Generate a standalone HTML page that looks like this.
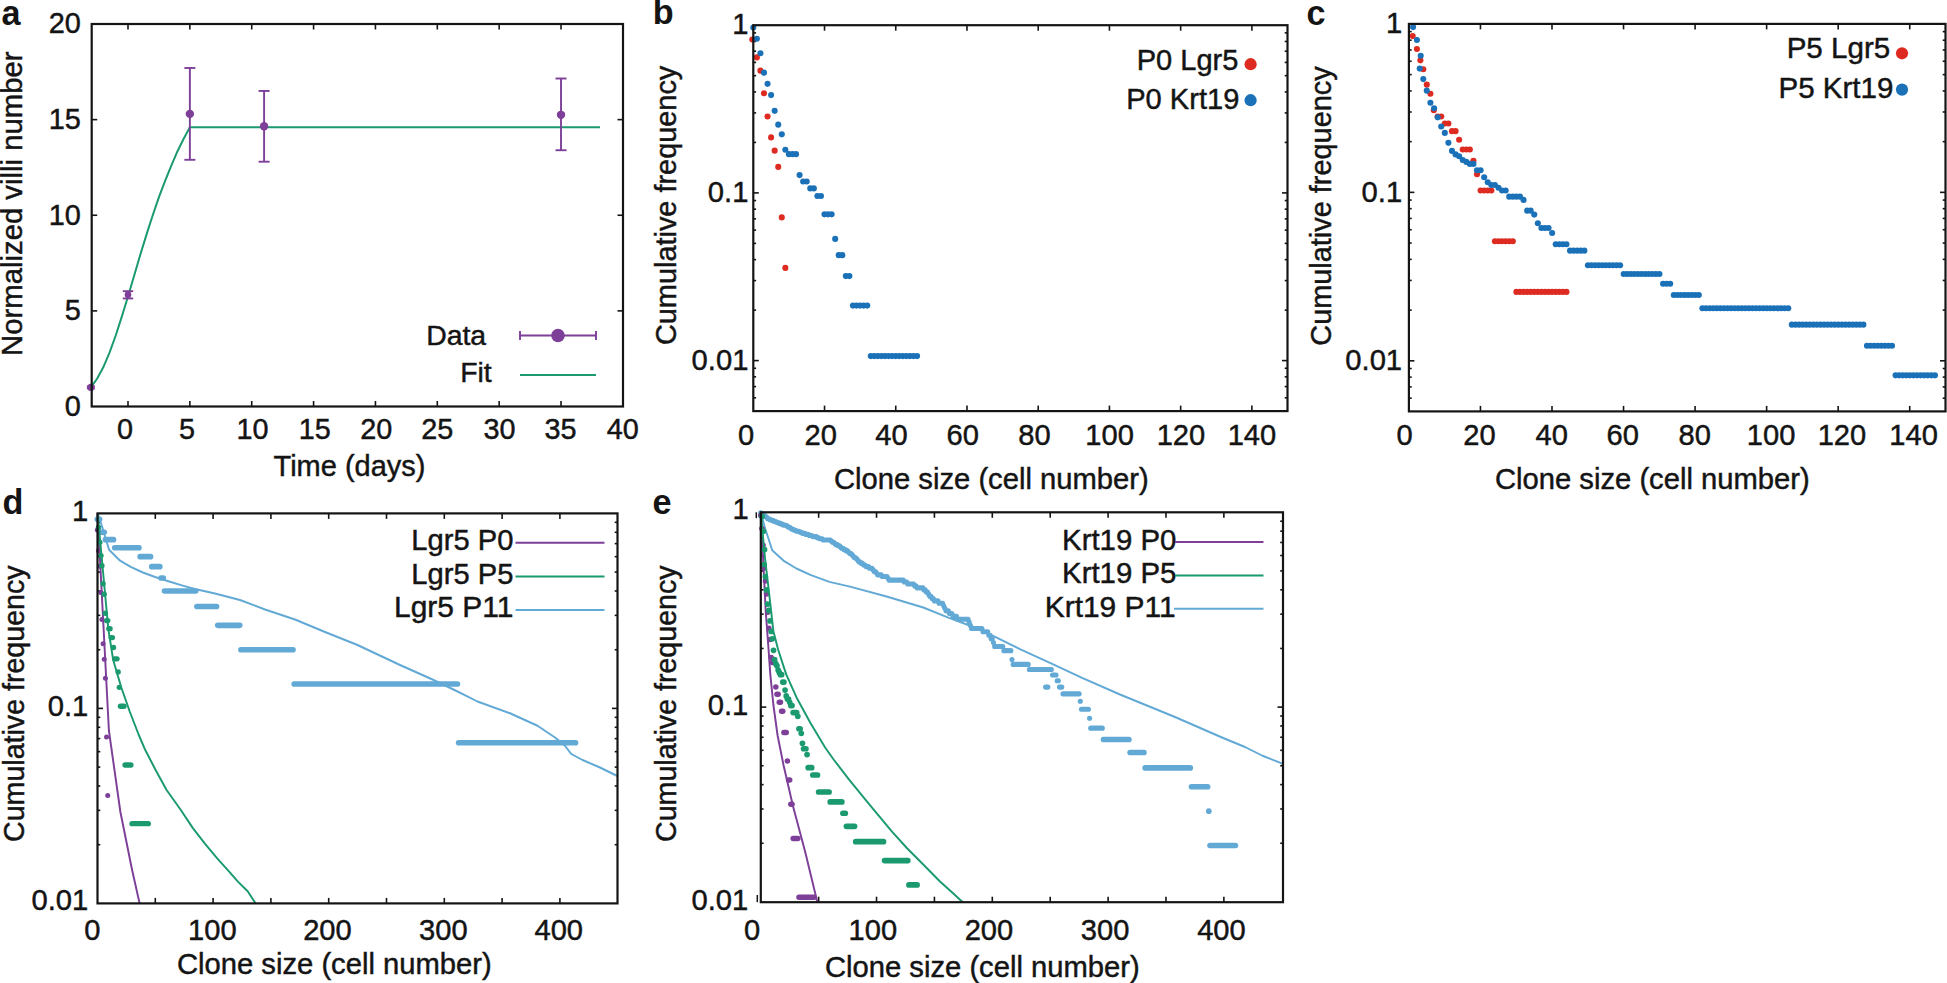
<!DOCTYPE html>
<html lang="en"><head><meta charset="utf-8"><title>Figure</title>
<style>html,body{margin:0;padding:0;background:#fff;}svg{display:block;}</style></head>
<body>
<svg width="1947" height="983" viewBox="0 0 1947 983" font-family="'Liberation Sans', sans-serif" fill="#141414">
<style>text{stroke:#141414;stroke-width:0.45px;paint-order:stroke fill;}</style>
<rect width="1947" height="983" fill="#ffffff"/>
<line x1="128" y1="406.5" x2="128" y2="401" stroke="#141414" stroke-width="1.6" stroke-linecap="butt"/>
<line x1="128" y1="24" x2="128" y2="29.5" stroke="#141414" stroke-width="1.6" stroke-linecap="butt"/>
<line x1="189.86" y1="406.5" x2="189.86" y2="401" stroke="#141414" stroke-width="1.6" stroke-linecap="butt"/>
<line x1="189.86" y1="24" x2="189.86" y2="29.5" stroke="#141414" stroke-width="1.6" stroke-linecap="butt"/>
<line x1="251.72" y1="406.5" x2="251.72" y2="401" stroke="#141414" stroke-width="1.6" stroke-linecap="butt"/>
<line x1="251.72" y1="24" x2="251.72" y2="29.5" stroke="#141414" stroke-width="1.6" stroke-linecap="butt"/>
<line x1="313.58" y1="406.5" x2="313.58" y2="401" stroke="#141414" stroke-width="1.6" stroke-linecap="butt"/>
<line x1="313.58" y1="24" x2="313.58" y2="29.5" stroke="#141414" stroke-width="1.6" stroke-linecap="butt"/>
<line x1="375.44" y1="406.5" x2="375.44" y2="401" stroke="#141414" stroke-width="1.6" stroke-linecap="butt"/>
<line x1="375.44" y1="24" x2="375.44" y2="29.5" stroke="#141414" stroke-width="1.6" stroke-linecap="butt"/>
<line x1="437.3" y1="406.5" x2="437.3" y2="401" stroke="#141414" stroke-width="1.6" stroke-linecap="butt"/>
<line x1="437.3" y1="24" x2="437.3" y2="29.5" stroke="#141414" stroke-width="1.6" stroke-linecap="butt"/>
<line x1="499.16" y1="406.5" x2="499.16" y2="401" stroke="#141414" stroke-width="1.6" stroke-linecap="butt"/>
<line x1="499.16" y1="24" x2="499.16" y2="29.5" stroke="#141414" stroke-width="1.6" stroke-linecap="butt"/>
<line x1="561.02" y1="406.5" x2="561.02" y2="401" stroke="#141414" stroke-width="1.6" stroke-linecap="butt"/>
<line x1="561.02" y1="24" x2="561.02" y2="29.5" stroke="#141414" stroke-width="1.6" stroke-linecap="butt"/>
<line x1="91.7" y1="310.88" x2="97.2" y2="310.88" stroke="#141414" stroke-width="1.6" stroke-linecap="butt"/>
<line x1="623" y1="310.88" x2="617.5" y2="310.88" stroke="#141414" stroke-width="1.6" stroke-linecap="butt"/>
<line x1="91.7" y1="215.25" x2="97.2" y2="215.25" stroke="#141414" stroke-width="1.6" stroke-linecap="butt"/>
<line x1="623" y1="215.25" x2="617.5" y2="215.25" stroke="#141414" stroke-width="1.6" stroke-linecap="butt"/>
<line x1="91.7" y1="119.62" x2="97.2" y2="119.62" stroke="#141414" stroke-width="1.6" stroke-linecap="butt"/>
<line x1="623" y1="119.62" x2="617.5" y2="119.62" stroke="#141414" stroke-width="1.6" stroke-linecap="butt"/>
<path d="M90.88 387.38 L97.07 378.77 L103.26 367.29 L109.44 352.95 L115.63 335.74 L121.81 316.61 L128 296.53 L134.19 275.49 L140.37 254.46 L146.56 234.38 L152.74 215.25 L158.93 197.08 L165.12 180.82 L171.3 165.53 L177.49 151.18 L183.67 138.75 L189.86 127.27 L599.99 127.27" fill="none" stroke="#1a9a6e" stroke-width="2" stroke-linejoin="round"/>
<line x1="90.88" y1="388.33" x2="90.88" y2="386.42" stroke="#7d3f98" stroke-width="1.9" stroke-linecap="butt"/>
<line x1="86.88" y1="388.33" x2="94.88" y2="388.33" stroke="#7d3f98" stroke-width="1.9" stroke-linecap="butt"/>
<line x1="86.88" y1="386.42" x2="94.88" y2="386.42" stroke="#7d3f98" stroke-width="1.9" stroke-linecap="butt"/>
<g fill="#7d3f98">
<circle cx="90.88" cy="387.38" r="3.6"/>
</g>
<line x1="128" y1="298.44" x2="128" y2="291.18" stroke="#7d3f98" stroke-width="1.9" stroke-linecap="butt"/>
<line x1="122.8" y1="298.44" x2="133.2" y2="298.44" stroke="#7d3f98" stroke-width="1.9" stroke-linecap="butt"/>
<line x1="122.8" y1="291.18" x2="133.2" y2="291.18" stroke="#7d3f98" stroke-width="1.9" stroke-linecap="butt"/>
<g fill="#7d3f98">
<circle cx="128" cy="294.81" r="3.3"/>
</g>
<line x1="189.86" y1="159.79" x2="189.86" y2="67.99" stroke="#7d3f98" stroke-width="1.9" stroke-linecap="butt"/>
<line x1="184.36" y1="159.79" x2="195.36" y2="159.79" stroke="#7d3f98" stroke-width="1.9" stroke-linecap="butt"/>
<line x1="184.36" y1="67.99" x2="195.36" y2="67.99" stroke="#7d3f98" stroke-width="1.9" stroke-linecap="butt"/>
<g fill="#7d3f98">
<circle cx="189.86" cy="113.89" r="4.2"/>
</g>
<line x1="264.09" y1="161.7" x2="264.09" y2="90.94" stroke="#7d3f98" stroke-width="1.9" stroke-linecap="butt"/>
<line x1="258.59" y1="161.7" x2="269.59" y2="161.7" stroke="#7d3f98" stroke-width="1.9" stroke-linecap="butt"/>
<line x1="258.59" y1="90.94" x2="269.59" y2="90.94" stroke="#7d3f98" stroke-width="1.9" stroke-linecap="butt"/>
<g fill="#7d3f98">
<circle cx="264.09" cy="126.32" r="4.2"/>
</g>
<line x1="561.02" y1="150.23" x2="561.02" y2="78.51" stroke="#7d3f98" stroke-width="1.9" stroke-linecap="butt"/>
<line x1="555.52" y1="150.23" x2="566.52" y2="150.23" stroke="#7d3f98" stroke-width="1.9" stroke-linecap="butt"/>
<line x1="555.52" y1="78.51" x2="566.52" y2="78.51" stroke="#7d3f98" stroke-width="1.9" stroke-linecap="butt"/>
<g fill="#7d3f98">
<circle cx="561.02" cy="114.84" r="4.2"/>
</g>
<rect x="91.7" y="24" width="531.3" height="382.5" fill="none" stroke="#141414" stroke-width="2.2"/>
<text x="117.11" y="439.4" font-size="28.8" text-anchor="start">0</text>
<text x="179.01" y="439.4" font-size="28.8" text-anchor="start">5</text>
<text x="236.62" y="439.4" font-size="28.8" text-anchor="start">10</text>
<text x="298.82" y="439.4" font-size="28.8" text-anchor="start">15</text>
<text x="360.17" y="439.4" font-size="28.8" text-anchor="start">20</text>
<text x="421.37" y="439.4" font-size="28.8" text-anchor="start">25</text>
<text x="483.42" y="439.4" font-size="28.8" text-anchor="start">30</text>
<text x="544.62" y="439.4" font-size="28.8" text-anchor="start">35</text>
<text x="606.73" y="439.4" font-size="28.8" text-anchor="start">40</text>
<text x="64.82" y="415.9" font-size="28.9" text-anchor="start">0</text>
<text x="64.82" y="320.27" font-size="28.9" text-anchor="start">5</text>
<text x="48.78" y="224.65" font-size="28.9" text-anchor="start">10</text>
<text x="48.78" y="129.03" font-size="28.9" text-anchor="start">15</text>
<text x="48.78" y="33.4" font-size="28.9" text-anchor="start">20</text>
<text x="273.53" y="475.8" font-size="29" text-anchor="start">Time (days)</text>
<text transform="translate(22.4 203.7) rotate(-90)" font-size="29.3" text-anchor="middle">Normalized villi number</text>
<text x="1.61" y="24.7" font-size="34.2" text-anchor="start" font-weight="bold" style="stroke:none">a</text>
<text x="426.15" y="344.8" font-size="28.4" text-anchor="start">Data</text>
<text x="460.17" y="382.3" font-size="28.4" text-anchor="start">Fit</text>
<line x1="520" y1="335.5" x2="596" y2="335.5" stroke="#7d3f98" stroke-width="1.9" stroke-linecap="butt"/>
<line x1="520" y1="331" x2="520" y2="340" stroke="#7d3f98" stroke-width="1.9" stroke-linecap="butt"/>
<line x1="596" y1="331" x2="596" y2="340" stroke="#7d3f98" stroke-width="1.9" stroke-linecap="butt"/>
<g fill="#7d3f98">
<circle cx="558" cy="335.5" r="6.8"/>
</g>
<line x1="520" y1="375" x2="596" y2="375" stroke="#1a9a6e" stroke-width="2" stroke-linecap="butt"/>
<line x1="824.53" y1="411.1" x2="824.53" y2="405.6" stroke="#141414" stroke-width="1.6" stroke-linecap="butt"/>
<line x1="824.53" y1="25.2" x2="824.53" y2="30.7" stroke="#141414" stroke-width="1.6" stroke-linecap="butt"/>
<line x1="895.75" y1="411.1" x2="895.75" y2="405.6" stroke="#141414" stroke-width="1.6" stroke-linecap="butt"/>
<line x1="895.75" y1="25.2" x2="895.75" y2="30.7" stroke="#141414" stroke-width="1.6" stroke-linecap="butt"/>
<line x1="966.98" y1="411.1" x2="966.98" y2="405.6" stroke="#141414" stroke-width="1.6" stroke-linecap="butt"/>
<line x1="966.98" y1="25.2" x2="966.98" y2="30.7" stroke="#141414" stroke-width="1.6" stroke-linecap="butt"/>
<line x1="1038.21" y1="411.1" x2="1038.21" y2="405.6" stroke="#141414" stroke-width="1.6" stroke-linecap="butt"/>
<line x1="1038.21" y1="25.2" x2="1038.21" y2="30.7" stroke="#141414" stroke-width="1.6" stroke-linecap="butt"/>
<line x1="1109.43" y1="411.1" x2="1109.43" y2="405.6" stroke="#141414" stroke-width="1.6" stroke-linecap="butt"/>
<line x1="1109.43" y1="25.2" x2="1109.43" y2="30.7" stroke="#141414" stroke-width="1.6" stroke-linecap="butt"/>
<line x1="1180.66" y1="411.1" x2="1180.66" y2="405.6" stroke="#141414" stroke-width="1.6" stroke-linecap="butt"/>
<line x1="1180.66" y1="25.2" x2="1180.66" y2="30.7" stroke="#141414" stroke-width="1.6" stroke-linecap="butt"/>
<line x1="1251.89" y1="411.1" x2="1251.89" y2="405.6" stroke="#141414" stroke-width="1.6" stroke-linecap="butt"/>
<line x1="1251.89" y1="25.2" x2="1251.89" y2="30.7" stroke="#141414" stroke-width="1.6" stroke-linecap="butt"/>
<line x1="753.3" y1="192.9" x2="758.8" y2="192.9" stroke="#141414" stroke-width="1.6" stroke-linecap="butt"/>
<line x1="1287.5" y1="192.9" x2="1282" y2="192.9" stroke="#141414" stroke-width="1.6" stroke-linecap="butt"/>
<line x1="753.3" y1="360.6" x2="758.8" y2="360.6" stroke="#141414" stroke-width="1.6" stroke-linecap="butt"/>
<line x1="1287.5" y1="360.6" x2="1282" y2="360.6" stroke="#141414" stroke-width="1.6" stroke-linecap="butt"/>
<line x1="753.3" y1="142.42" x2="756.1" y2="142.42" stroke="#141414" stroke-width="1.6" stroke-linecap="butt"/>
<line x1="1287.5" y1="142.42" x2="1284.7" y2="142.42" stroke="#141414" stroke-width="1.6" stroke-linecap="butt"/>
<line x1="753.3" y1="112.89" x2="756.1" y2="112.89" stroke="#141414" stroke-width="1.6" stroke-linecap="butt"/>
<line x1="1287.5" y1="112.89" x2="1284.7" y2="112.89" stroke="#141414" stroke-width="1.6" stroke-linecap="butt"/>
<line x1="753.3" y1="91.93" x2="756.1" y2="91.93" stroke="#141414" stroke-width="1.6" stroke-linecap="butt"/>
<line x1="1287.5" y1="91.93" x2="1284.7" y2="91.93" stroke="#141414" stroke-width="1.6" stroke-linecap="butt"/>
<line x1="753.3" y1="75.68" x2="756.1" y2="75.68" stroke="#141414" stroke-width="1.6" stroke-linecap="butt"/>
<line x1="1287.5" y1="75.68" x2="1284.7" y2="75.68" stroke="#141414" stroke-width="1.6" stroke-linecap="butt"/>
<line x1="753.3" y1="62.4" x2="756.1" y2="62.4" stroke="#141414" stroke-width="1.6" stroke-linecap="butt"/>
<line x1="1287.5" y1="62.4" x2="1284.7" y2="62.4" stroke="#141414" stroke-width="1.6" stroke-linecap="butt"/>
<line x1="753.3" y1="51.18" x2="756.1" y2="51.18" stroke="#141414" stroke-width="1.6" stroke-linecap="butt"/>
<line x1="1287.5" y1="51.18" x2="1284.7" y2="51.18" stroke="#141414" stroke-width="1.6" stroke-linecap="butt"/>
<line x1="753.3" y1="41.45" x2="756.1" y2="41.45" stroke="#141414" stroke-width="1.6" stroke-linecap="butt"/>
<line x1="1287.5" y1="41.45" x2="1284.7" y2="41.45" stroke="#141414" stroke-width="1.6" stroke-linecap="butt"/>
<line x1="753.3" y1="32.87" x2="756.1" y2="32.87" stroke="#141414" stroke-width="1.6" stroke-linecap="butt"/>
<line x1="1287.5" y1="32.87" x2="1284.7" y2="32.87" stroke="#141414" stroke-width="1.6" stroke-linecap="butt"/>
<line x1="753.3" y1="310.12" x2="756.1" y2="310.12" stroke="#141414" stroke-width="1.6" stroke-linecap="butt"/>
<line x1="1287.5" y1="310.12" x2="1284.7" y2="310.12" stroke="#141414" stroke-width="1.6" stroke-linecap="butt"/>
<line x1="753.3" y1="280.59" x2="756.1" y2="280.59" stroke="#141414" stroke-width="1.6" stroke-linecap="butt"/>
<line x1="1287.5" y1="280.59" x2="1284.7" y2="280.59" stroke="#141414" stroke-width="1.6" stroke-linecap="butt"/>
<line x1="753.3" y1="259.63" x2="756.1" y2="259.63" stroke="#141414" stroke-width="1.6" stroke-linecap="butt"/>
<line x1="1287.5" y1="259.63" x2="1284.7" y2="259.63" stroke="#141414" stroke-width="1.6" stroke-linecap="butt"/>
<line x1="753.3" y1="243.38" x2="756.1" y2="243.38" stroke="#141414" stroke-width="1.6" stroke-linecap="butt"/>
<line x1="1287.5" y1="243.38" x2="1284.7" y2="243.38" stroke="#141414" stroke-width="1.6" stroke-linecap="butt"/>
<line x1="753.3" y1="230.1" x2="756.1" y2="230.1" stroke="#141414" stroke-width="1.6" stroke-linecap="butt"/>
<line x1="1287.5" y1="230.1" x2="1284.7" y2="230.1" stroke="#141414" stroke-width="1.6" stroke-linecap="butt"/>
<line x1="753.3" y1="218.88" x2="756.1" y2="218.88" stroke="#141414" stroke-width="1.6" stroke-linecap="butt"/>
<line x1="1287.5" y1="218.88" x2="1284.7" y2="218.88" stroke="#141414" stroke-width="1.6" stroke-linecap="butt"/>
<line x1="753.3" y1="209.15" x2="756.1" y2="209.15" stroke="#141414" stroke-width="1.6" stroke-linecap="butt"/>
<line x1="1287.5" y1="209.15" x2="1284.7" y2="209.15" stroke="#141414" stroke-width="1.6" stroke-linecap="butt"/>
<line x1="753.3" y1="200.57" x2="756.1" y2="200.57" stroke="#141414" stroke-width="1.6" stroke-linecap="butt"/>
<line x1="1287.5" y1="200.57" x2="1284.7" y2="200.57" stroke="#141414" stroke-width="1.6" stroke-linecap="butt"/>
<line x1="753.3" y1="397.8" x2="756.1" y2="397.8" stroke="#141414" stroke-width="1.6" stroke-linecap="butt"/>
<line x1="1287.5" y1="397.8" x2="1284.7" y2="397.8" stroke="#141414" stroke-width="1.6" stroke-linecap="butt"/>
<line x1="753.3" y1="386.58" x2="756.1" y2="386.58" stroke="#141414" stroke-width="1.6" stroke-linecap="butt"/>
<line x1="1287.5" y1="386.58" x2="1284.7" y2="386.58" stroke="#141414" stroke-width="1.6" stroke-linecap="butt"/>
<line x1="753.3" y1="376.85" x2="756.1" y2="376.85" stroke="#141414" stroke-width="1.6" stroke-linecap="butt"/>
<line x1="1287.5" y1="376.85" x2="1284.7" y2="376.85" stroke="#141414" stroke-width="1.6" stroke-linecap="butt"/>
<line x1="753.3" y1="368.27" x2="756.1" y2="368.27" stroke="#141414" stroke-width="1.6" stroke-linecap="butt"/>
<line x1="1287.5" y1="368.27" x2="1284.7" y2="368.27" stroke="#141414" stroke-width="1.6" stroke-linecap="butt"/>
<g fill="#de2b21">
<circle cx="752.3" cy="39.53" r="3.05"/>
<circle cx="756.86" cy="57.38" r="3.05"/>
<circle cx="760.42" cy="70.66" r="3.05"/>
<circle cx="763.98" cy="93.25" r="3.05"/>
<circle cx="767.54" cy="116.44" r="3.05"/>
<circle cx="771.1" cy="137.39" r="3.05"/>
<circle cx="774.66" cy="150.67" r="3.05"/>
<circle cx="778.22" cy="166.92" r="3.05"/>
<circle cx="781.78" cy="217.41" r="3.05"/>
<circle cx="785.34" cy="267.89" r="3.05"/>
</g>
<g fill="#1b71b8">
<circle cx="753.3" cy="27.56" r="3.05"/>
<circle cx="756.86" cy="38.79" r="3.05"/>
<circle cx="760.42" cy="53.2" r="3.05"/>
<circle cx="763.98" cy="72.65" r="3.05"/>
<circle cx="767.54" cy="83.87" r="3.05"/>
<circle cx="771.1" cy="95.1" r="3.05"/>
<circle cx="774.66" cy="110.85" r="3.05"/>
<circle cx="778.22" cy="124.63" r="3.05"/>
<circle cx="781.78" cy="134.36" r="3.05"/>
<circle cx="785.34" cy="149.75" r="3.05"/>
<circle cx="788.9" cy="154.16" r="3.05"/>
<circle cx="792.46" cy="154.16" r="3.05"/>
<circle cx="796.02" cy="154.16" r="3.05"/>
<circle cx="799.58" cy="175.11" r="3.05"/>
<circle cx="803.14" cy="181.45" r="3.05"/>
<circle cx="806.7" cy="181.45" r="3.05"/>
<circle cx="810.26" cy="188.39" r="3.05"/>
<circle cx="813.82" cy="188.39" r="3.05"/>
<circle cx="817.38" cy="196.07" r="3.05"/>
<circle cx="820.94" cy="196.07" r="3.05"/>
<circle cx="824.5" cy="214.37" r="3.05"/>
<circle cx="828.06" cy="214.37" r="3.05"/>
<circle cx="831.62" cy="214.37" r="3.05"/>
<circle cx="835.18" cy="238.88" r="3.05"/>
<circle cx="838.74" cy="255.13" r="3.05"/>
<circle cx="842.3" cy="255.13" r="3.05"/>
<circle cx="845.86" cy="276.08" r="3.05"/>
<circle cx="849.42" cy="276.08" r="3.05"/>
<circle cx="852.98" cy="305.61" r="3.05"/>
<circle cx="856.54" cy="305.61" r="3.05"/>
<circle cx="860.1" cy="305.61" r="3.05"/>
<circle cx="863.66" cy="305.61" r="3.05"/>
<circle cx="867.22" cy="305.61" r="3.05"/>
<circle cx="870.78" cy="356.09" r="3.05"/>
<circle cx="874.34" cy="356.09" r="3.05"/>
<circle cx="877.9" cy="356.09" r="3.05"/>
<circle cx="881.46" cy="356.09" r="3.05"/>
<circle cx="885.02" cy="356.09" r="3.05"/>
<circle cx="888.58" cy="356.09" r="3.05"/>
<circle cx="892.14" cy="356.09" r="3.05"/>
<circle cx="895.7" cy="356.09" r="3.05"/>
<circle cx="899.26" cy="356.09" r="3.05"/>
<circle cx="902.82" cy="356.09" r="3.05"/>
<circle cx="906.38" cy="356.09" r="3.05"/>
<circle cx="909.94" cy="356.09" r="3.05"/>
<circle cx="913.5" cy="356.09" r="3.05"/>
<circle cx="917.06" cy="356.09" r="3.05"/>
</g>
<rect x="753.3" y="25.2" width="534.2" height="385.9" fill="none" stroke="#141414" stroke-width="2.2"/>
<text x="738.12" y="445.1" font-size="29.1" text-anchor="start">0</text>
<text x="804.5" y="445.1" font-size="29.1" text-anchor="start">20</text>
<text x="875.37" y="445.1" font-size="29.1" text-anchor="start">40</text>
<text x="946.5" y="445.1" font-size="29.1" text-anchor="start">60</text>
<text x="1018.28" y="445.1" font-size="29.1" text-anchor="start">80</text>
<text x="1085.37" y="445.1" font-size="29.1" text-anchor="start">100</text>
<text x="1156.67" y="445.1" font-size="29.1" text-anchor="start">120</text>
<text x="1227.67" y="445.1" font-size="29.1" text-anchor="start">140</text>
<text x="732.2" y="34.2" font-size="29.2" text-anchor="start">1</text>
<text x="707.85" y="202.15" font-size="29.2" text-anchor="start">0.1</text>
<text x="691.61" y="370.1" font-size="29.2" text-anchor="start">0.01</text>
<text x="834.01" y="489.3" font-size="29.2" text-anchor="start">Clone size (cell number)</text>
<text transform="translate(675.9 205.4) rotate(-90)" font-size="28.9" text-anchor="middle">Cumulative frequency</text>
<text x="652.69" y="24.4" font-size="34.2" text-anchor="start" font-weight="bold" style="stroke:none">b</text>
<text x="1136.78" y="69.5" font-size="29.02" text-anchor="start">P0 Lgr5</text>
<text x="1126.17" y="109" font-size="29.08" text-anchor="start">P0 Krt19</text>
<g fill="#de2b21">
<circle cx="1250.6" cy="64.2" r="6.1"/>
</g>
<g fill="#1b71b8">
<circle cx="1250.6" cy="100.2" r="6.1"/>
</g>
<line x1="1480.45" y1="411.4" x2="1480.45" y2="405.9" stroke="#141414" stroke-width="1.6" stroke-linecap="butt"/>
<line x1="1480.45" y1="23.9" x2="1480.45" y2="29.4" stroke="#141414" stroke-width="1.6" stroke-linecap="butt"/>
<line x1="1551.99" y1="411.4" x2="1551.99" y2="405.9" stroke="#141414" stroke-width="1.6" stroke-linecap="butt"/>
<line x1="1551.99" y1="23.9" x2="1551.99" y2="29.4" stroke="#141414" stroke-width="1.6" stroke-linecap="butt"/>
<line x1="1623.54" y1="411.4" x2="1623.54" y2="405.9" stroke="#141414" stroke-width="1.6" stroke-linecap="butt"/>
<line x1="1623.54" y1="23.9" x2="1623.54" y2="29.4" stroke="#141414" stroke-width="1.6" stroke-linecap="butt"/>
<line x1="1695.09" y1="411.4" x2="1695.09" y2="405.9" stroke="#141414" stroke-width="1.6" stroke-linecap="butt"/>
<line x1="1695.09" y1="23.9" x2="1695.09" y2="29.4" stroke="#141414" stroke-width="1.6" stroke-linecap="butt"/>
<line x1="1766.63" y1="411.4" x2="1766.63" y2="405.9" stroke="#141414" stroke-width="1.6" stroke-linecap="butt"/>
<line x1="1766.63" y1="23.9" x2="1766.63" y2="29.4" stroke="#141414" stroke-width="1.6" stroke-linecap="butt"/>
<line x1="1838.18" y1="411.4" x2="1838.18" y2="405.9" stroke="#141414" stroke-width="1.6" stroke-linecap="butt"/>
<line x1="1838.18" y1="23.9" x2="1838.18" y2="29.4" stroke="#141414" stroke-width="1.6" stroke-linecap="butt"/>
<line x1="1909.73" y1="411.4" x2="1909.73" y2="405.9" stroke="#141414" stroke-width="1.6" stroke-linecap="butt"/>
<line x1="1909.73" y1="23.9" x2="1909.73" y2="29.4" stroke="#141414" stroke-width="1.6" stroke-linecap="butt"/>
<line x1="1408.9" y1="192.35" x2="1414.4" y2="192.35" stroke="#141414" stroke-width="1.6" stroke-linecap="butt"/>
<line x1="1945.5" y1="192.35" x2="1940" y2="192.35" stroke="#141414" stroke-width="1.6" stroke-linecap="butt"/>
<line x1="1408.9" y1="360.8" x2="1414.4" y2="360.8" stroke="#141414" stroke-width="1.6" stroke-linecap="butt"/>
<line x1="1945.5" y1="360.8" x2="1940" y2="360.8" stroke="#141414" stroke-width="1.6" stroke-linecap="butt"/>
<line x1="1408.9" y1="141.64" x2="1411.7" y2="141.64" stroke="#141414" stroke-width="1.6" stroke-linecap="butt"/>
<line x1="1945.5" y1="141.64" x2="1942.7" y2="141.64" stroke="#141414" stroke-width="1.6" stroke-linecap="butt"/>
<line x1="1408.9" y1="111.98" x2="1411.7" y2="111.98" stroke="#141414" stroke-width="1.6" stroke-linecap="butt"/>
<line x1="1945.5" y1="111.98" x2="1942.7" y2="111.98" stroke="#141414" stroke-width="1.6" stroke-linecap="butt"/>
<line x1="1408.9" y1="90.93" x2="1411.7" y2="90.93" stroke="#141414" stroke-width="1.6" stroke-linecap="butt"/>
<line x1="1945.5" y1="90.93" x2="1942.7" y2="90.93" stroke="#141414" stroke-width="1.6" stroke-linecap="butt"/>
<line x1="1408.9" y1="74.61" x2="1411.7" y2="74.61" stroke="#141414" stroke-width="1.6" stroke-linecap="butt"/>
<line x1="1945.5" y1="74.61" x2="1942.7" y2="74.61" stroke="#141414" stroke-width="1.6" stroke-linecap="butt"/>
<line x1="1408.9" y1="61.27" x2="1411.7" y2="61.27" stroke="#141414" stroke-width="1.6" stroke-linecap="butt"/>
<line x1="1945.5" y1="61.27" x2="1942.7" y2="61.27" stroke="#141414" stroke-width="1.6" stroke-linecap="butt"/>
<line x1="1408.9" y1="49.99" x2="1411.7" y2="49.99" stroke="#141414" stroke-width="1.6" stroke-linecap="butt"/>
<line x1="1945.5" y1="49.99" x2="1942.7" y2="49.99" stroke="#141414" stroke-width="1.6" stroke-linecap="butt"/>
<line x1="1408.9" y1="40.22" x2="1411.7" y2="40.22" stroke="#141414" stroke-width="1.6" stroke-linecap="butt"/>
<line x1="1945.5" y1="40.22" x2="1942.7" y2="40.22" stroke="#141414" stroke-width="1.6" stroke-linecap="butt"/>
<line x1="1408.9" y1="31.61" x2="1411.7" y2="31.61" stroke="#141414" stroke-width="1.6" stroke-linecap="butt"/>
<line x1="1945.5" y1="31.61" x2="1942.7" y2="31.61" stroke="#141414" stroke-width="1.6" stroke-linecap="butt"/>
<line x1="1408.9" y1="310.09" x2="1411.7" y2="310.09" stroke="#141414" stroke-width="1.6" stroke-linecap="butt"/>
<line x1="1945.5" y1="310.09" x2="1942.7" y2="310.09" stroke="#141414" stroke-width="1.6" stroke-linecap="butt"/>
<line x1="1408.9" y1="280.43" x2="1411.7" y2="280.43" stroke="#141414" stroke-width="1.6" stroke-linecap="butt"/>
<line x1="1945.5" y1="280.43" x2="1942.7" y2="280.43" stroke="#141414" stroke-width="1.6" stroke-linecap="butt"/>
<line x1="1408.9" y1="259.38" x2="1411.7" y2="259.38" stroke="#141414" stroke-width="1.6" stroke-linecap="butt"/>
<line x1="1945.5" y1="259.38" x2="1942.7" y2="259.38" stroke="#141414" stroke-width="1.6" stroke-linecap="butt"/>
<line x1="1408.9" y1="243.06" x2="1411.7" y2="243.06" stroke="#141414" stroke-width="1.6" stroke-linecap="butt"/>
<line x1="1945.5" y1="243.06" x2="1942.7" y2="243.06" stroke="#141414" stroke-width="1.6" stroke-linecap="butt"/>
<line x1="1408.9" y1="229.72" x2="1411.7" y2="229.72" stroke="#141414" stroke-width="1.6" stroke-linecap="butt"/>
<line x1="1945.5" y1="229.72" x2="1942.7" y2="229.72" stroke="#141414" stroke-width="1.6" stroke-linecap="butt"/>
<line x1="1408.9" y1="218.44" x2="1411.7" y2="218.44" stroke="#141414" stroke-width="1.6" stroke-linecap="butt"/>
<line x1="1945.5" y1="218.44" x2="1942.7" y2="218.44" stroke="#141414" stroke-width="1.6" stroke-linecap="butt"/>
<line x1="1408.9" y1="208.67" x2="1411.7" y2="208.67" stroke="#141414" stroke-width="1.6" stroke-linecap="butt"/>
<line x1="1945.5" y1="208.67" x2="1942.7" y2="208.67" stroke="#141414" stroke-width="1.6" stroke-linecap="butt"/>
<line x1="1408.9" y1="200.06" x2="1411.7" y2="200.06" stroke="#141414" stroke-width="1.6" stroke-linecap="butt"/>
<line x1="1945.5" y1="200.06" x2="1942.7" y2="200.06" stroke="#141414" stroke-width="1.6" stroke-linecap="butt"/>
<line x1="1408.9" y1="398.17" x2="1411.7" y2="398.17" stroke="#141414" stroke-width="1.6" stroke-linecap="butt"/>
<line x1="1945.5" y1="398.17" x2="1942.7" y2="398.17" stroke="#141414" stroke-width="1.6" stroke-linecap="butt"/>
<line x1="1408.9" y1="386.89" x2="1411.7" y2="386.89" stroke="#141414" stroke-width="1.6" stroke-linecap="butt"/>
<line x1="1945.5" y1="386.89" x2="1942.7" y2="386.89" stroke="#141414" stroke-width="1.6" stroke-linecap="butt"/>
<line x1="1408.9" y1="377.12" x2="1411.7" y2="377.12" stroke="#141414" stroke-width="1.6" stroke-linecap="butt"/>
<line x1="1945.5" y1="377.12" x2="1942.7" y2="377.12" stroke="#141414" stroke-width="1.6" stroke-linecap="butt"/>
<line x1="1408.9" y1="368.51" x2="1411.7" y2="368.51" stroke="#141414" stroke-width="1.6" stroke-linecap="butt"/>
<line x1="1945.5" y1="368.51" x2="1942.7" y2="368.51" stroke="#141414" stroke-width="1.6" stroke-linecap="butt"/>
<g fill="#de2b21">
<circle cx="1412.7" cy="36.12" r="3.05"/>
<circle cx="1416.92" cy="48.93" r="3.05"/>
<circle cx="1420.39" cy="60.34" r="3.05"/>
<circle cx="1423.29" cy="69.19" r="3.05"/>
<circle cx="1426.79" cy="84.65" r="3.05"/>
<circle cx="1430.41" cy="93.8" r="3.05"/>
<circle cx="1433.81" cy="110.13" r="3.05"/>
<circle cx="1437.67" cy="116.49" r="3.05"/>
<circle cx="1441.25" cy="116.49" r="3.05"/>
<circle cx="1444.83" cy="123.46" r="3.05"/>
<circle cx="1448.4" cy="123.46" r="3.05"/>
<circle cx="1451.98" cy="131.17" r="3.05"/>
<circle cx="1455.56" cy="131.17" r="3.05"/>
<circle cx="1459.13" cy="139.79" r="3.05"/>
<circle cx="1462.71" cy="149.56" r="3.05"/>
<circle cx="1466.29" cy="149.56" r="3.05"/>
<circle cx="1469.87" cy="149.56" r="3.05"/>
<circle cx="1473.44" cy="160.84" r="3.05"/>
<circle cx="1477.02" cy="174.17" r="3.05"/>
<circle cx="1480.6" cy="190.5" r="3.05"/>
<circle cx="1484.18" cy="190.5" r="3.05"/>
<circle cx="1487.75" cy="190.5" r="3.05"/>
<circle cx="1491.33" cy="190.5" r="3.05"/>
<circle cx="1494.91" cy="241.21" r="3.05"/>
<circle cx="1498.49" cy="241.21" r="3.05"/>
<circle cx="1502.07" cy="241.21" r="3.05"/>
<circle cx="1505.64" cy="241.21" r="3.05"/>
<circle cx="1509.22" cy="241.21" r="3.05"/>
<circle cx="1512.8" cy="241.21" r="3.05"/>
<circle cx="1516.38" cy="291.91" r="3.05"/>
<circle cx="1519.95" cy="291.91" r="3.05"/>
<circle cx="1523.53" cy="291.91" r="3.05"/>
<circle cx="1527.11" cy="291.91" r="3.05"/>
<circle cx="1530.68" cy="291.91" r="3.05"/>
<circle cx="1534.26" cy="291.91" r="3.05"/>
<circle cx="1537.84" cy="291.91" r="3.05"/>
<circle cx="1541.42" cy="291.91" r="3.05"/>
<circle cx="1544.99" cy="291.91" r="3.05"/>
<circle cx="1548.57" cy="291.91" r="3.05"/>
<circle cx="1552.15" cy="291.91" r="3.05"/>
<circle cx="1555.73" cy="291.91" r="3.05"/>
<circle cx="1559.3" cy="291.91" r="3.05"/>
<circle cx="1562.88" cy="291.91" r="3.05"/>
<circle cx="1566.46" cy="291.91" r="3.05"/>
</g>
<g fill="#1b71b8">
<circle cx="1413.09" cy="27.12" r="3.05"/>
<circle cx="1416.92" cy="39.93" r="3.05"/>
<circle cx="1420.71" cy="55.69" r="3.05"/>
<circle cx="1419.71" cy="68.62" r="3.05"/>
<circle cx="1423.29" cy="79.12" r="3.05"/>
<circle cx="1426.79" cy="90.63" r="3.05"/>
<circle cx="1430.41" cy="102.79" r="3.05"/>
<circle cx="1434.09" cy="108.28" r="3.05"/>
<circle cx="1437.67" cy="117.37" r="3.05"/>
<circle cx="1441.25" cy="126.53" r="3.05"/>
<circle cx="1444.83" cy="132.89" r="3.05"/>
<circle cx="1448.4" cy="142.85" r="3.05"/>
<circle cx="1451.98" cy="150.9" r="3.05"/>
<circle cx="1455.56" cy="154.38" r="3.05"/>
<circle cx="1459.13" cy="156.19" r="3.05"/>
<circle cx="1462.71" cy="159.94" r="3.05"/>
<circle cx="1466.29" cy="161.89" r="3.05"/>
<circle cx="1469.87" cy="163.9" r="3.05"/>
<circle cx="1473.44" cy="163.9" r="3.05"/>
<circle cx="1477.02" cy="170.26" r="3.05"/>
<circle cx="1480.6" cy="170.26" r="3.05"/>
<circle cx="1484.18" cy="177.23" r="3.05"/>
<circle cx="1487.75" cy="182.28" r="3.05"/>
<circle cx="1491.33" cy="184.94" r="3.05"/>
<circle cx="1494.91" cy="184.94" r="3.05"/>
<circle cx="1498.49" cy="187.7" r="3.05"/>
<circle cx="1502.07" cy="190.57" r="3.05"/>
<circle cx="1505.64" cy="190.57" r="3.05"/>
<circle cx="1509.22" cy="196.67" r="3.05"/>
<circle cx="1512.8" cy="196.67" r="3.05"/>
<circle cx="1516.38" cy="196.67" r="3.05"/>
<circle cx="1519.95" cy="196.67" r="3.05"/>
<circle cx="1523.53" cy="199.92" r="3.05"/>
<circle cx="1527.11" cy="210.65" r="3.05"/>
<circle cx="1530.68" cy="210.65" r="3.05"/>
<circle cx="1534.26" cy="214.61" r="3.05"/>
<circle cx="1537.84" cy="223.22" r="3.05"/>
<circle cx="1541.42" cy="227.94" r="3.05"/>
<circle cx="1544.99" cy="227.94" r="3.05"/>
<circle cx="1548.57" cy="227.94" r="3.05"/>
<circle cx="1552.15" cy="232.99" r="3.05"/>
<circle cx="1555.73" cy="244.27" r="3.05"/>
<circle cx="1559.3" cy="244.27" r="3.05"/>
<circle cx="1562.88" cy="244.27" r="3.05"/>
<circle cx="1566.46" cy="244.27" r="3.05"/>
<circle cx="1570.04" cy="250.63" r="3.05"/>
<circle cx="1573.62" cy="250.63" r="3.05"/>
<circle cx="1577.19" cy="250.63" r="3.05"/>
<circle cx="1580.77" cy="250.63" r="3.05"/>
<circle cx="1584.35" cy="250.63" r="3.05"/>
<circle cx="1587.92" cy="265.31" r="3.05"/>
<circle cx="1591.5" cy="265.31" r="3.05"/>
<circle cx="1595.08" cy="265.31" r="3.05"/>
<circle cx="1598.66" cy="265.31" r="3.05"/>
<circle cx="1602.23" cy="265.31" r="3.05"/>
<circle cx="1605.81" cy="265.31" r="3.05"/>
<circle cx="1609.39" cy="265.31" r="3.05"/>
<circle cx="1612.97" cy="265.31" r="3.05"/>
<circle cx="1616.55" cy="265.31" r="3.05"/>
<circle cx="1620.12" cy="265.31" r="3.05"/>
<circle cx="1623.7" cy="273.93" r="3.05"/>
<circle cx="1627.28" cy="273.93" r="3.05"/>
<circle cx="1630.86" cy="273.93" r="3.05"/>
<circle cx="1634.43" cy="273.93" r="3.05"/>
<circle cx="1638.01" cy="273.93" r="3.05"/>
<circle cx="1641.59" cy="273.93" r="3.05"/>
<circle cx="1645.16" cy="273.93" r="3.05"/>
<circle cx="1648.74" cy="273.93" r="3.05"/>
<circle cx="1652.32" cy="273.93" r="3.05"/>
<circle cx="1655.9" cy="273.93" r="3.05"/>
<circle cx="1659.47" cy="273.93" r="3.05"/>
<circle cx="1663.05" cy="283.7" r="3.05"/>
<circle cx="1666.63" cy="283.7" r="3.05"/>
<circle cx="1670.21" cy="283.7" r="3.05"/>
<circle cx="1673.78" cy="294.98" r="3.05"/>
<circle cx="1677.36" cy="294.98" r="3.05"/>
<circle cx="1680.94" cy="294.98" r="3.05"/>
<circle cx="1684.52" cy="294.98" r="3.05"/>
<circle cx="1688.1" cy="294.98" r="3.05"/>
<circle cx="1691.67" cy="294.98" r="3.05"/>
<circle cx="1695.25" cy="294.98" r="3.05"/>
<circle cx="1698.83" cy="294.98" r="3.05"/>
<circle cx="1702.4" cy="308.31" r="3.05"/>
<circle cx="1705.98" cy="308.31" r="3.05"/>
<circle cx="1709.56" cy="308.31" r="3.05"/>
<circle cx="1713.14" cy="308.31" r="3.05"/>
<circle cx="1716.71" cy="308.31" r="3.05"/>
<circle cx="1720.29" cy="308.31" r="3.05"/>
<circle cx="1723.87" cy="308.31" r="3.05"/>
<circle cx="1727.45" cy="308.31" r="3.05"/>
<circle cx="1731.03" cy="308.31" r="3.05"/>
<circle cx="1734.6" cy="308.31" r="3.05"/>
<circle cx="1738.18" cy="308.31" r="3.05"/>
<circle cx="1741.76" cy="308.31" r="3.05"/>
<circle cx="1745.34" cy="308.31" r="3.05"/>
<circle cx="1748.91" cy="308.31" r="3.05"/>
<circle cx="1752.49" cy="308.31" r="3.05"/>
<circle cx="1756.07" cy="308.31" r="3.05"/>
<circle cx="1759.64" cy="308.31" r="3.05"/>
<circle cx="1763.22" cy="308.31" r="3.05"/>
<circle cx="1766.8" cy="308.31" r="3.05"/>
<circle cx="1770.38" cy="308.31" r="3.05"/>
<circle cx="1773.95" cy="308.31" r="3.05"/>
<circle cx="1777.53" cy="308.31" r="3.05"/>
<circle cx="1781.11" cy="308.31" r="3.05"/>
<circle cx="1784.69" cy="308.31" r="3.05"/>
<circle cx="1788.26" cy="308.31" r="3.05"/>
<circle cx="1791.84" cy="324.64" r="3.05"/>
<circle cx="1795.42" cy="324.64" r="3.05"/>
<circle cx="1799" cy="324.64" r="3.05"/>
<circle cx="1802.58" cy="324.64" r="3.05"/>
<circle cx="1806.15" cy="324.64" r="3.05"/>
<circle cx="1809.73" cy="324.64" r="3.05"/>
<circle cx="1813.31" cy="324.64" r="3.05"/>
<circle cx="1816.88" cy="324.64" r="3.05"/>
<circle cx="1820.46" cy="324.64" r="3.05"/>
<circle cx="1824.04" cy="324.64" r="3.05"/>
<circle cx="1827.62" cy="324.64" r="3.05"/>
<circle cx="1831.19" cy="324.64" r="3.05"/>
<circle cx="1834.77" cy="324.64" r="3.05"/>
<circle cx="1838.35" cy="324.64" r="3.05"/>
<circle cx="1841.93" cy="324.64" r="3.05"/>
<circle cx="1845.51" cy="324.64" r="3.05"/>
<circle cx="1849.08" cy="324.64" r="3.05"/>
<circle cx="1852.66" cy="324.64" r="3.05"/>
<circle cx="1856.24" cy="324.64" r="3.05"/>
<circle cx="1859.82" cy="324.64" r="3.05"/>
<circle cx="1863.39" cy="324.64" r="3.05"/>
<circle cx="1866.97" cy="345.68" r="3.05"/>
<circle cx="1870.55" cy="345.68" r="3.05"/>
<circle cx="1874.12" cy="345.68" r="3.05"/>
<circle cx="1877.7" cy="345.68" r="3.05"/>
<circle cx="1881.28" cy="345.68" r="3.05"/>
<circle cx="1884.86" cy="345.68" r="3.05"/>
<circle cx="1888.43" cy="345.68" r="3.05"/>
<circle cx="1892.01" cy="345.68" r="3.05"/>
<circle cx="1895.59" cy="375.35" r="3.05"/>
<circle cx="1899.17" cy="375.35" r="3.05"/>
<circle cx="1902.74" cy="375.35" r="3.05"/>
<circle cx="1906.32" cy="375.35" r="3.05"/>
<circle cx="1909.9" cy="375.35" r="3.05"/>
<circle cx="1913.48" cy="375.35" r="3.05"/>
<circle cx="1917.05" cy="375.35" r="3.05"/>
<circle cx="1920.63" cy="375.35" r="3.05"/>
<circle cx="1924.21" cy="375.35" r="3.05"/>
<circle cx="1927.79" cy="375.35" r="3.05"/>
<circle cx="1931.37" cy="375.35" r="3.05"/>
<circle cx="1934.94" cy="375.35" r="3.05"/>
</g>
<rect x="1408.9" y="23.9" width="536.6" height="387.5" fill="none" stroke="#141414" stroke-width="2.2"/>
<text x="1396.52" y="445" font-size="29.1" text-anchor="start">0</text>
<text x="1463.3" y="445" font-size="29.1" text-anchor="start">20</text>
<text x="1535.47" y="445" font-size="29.1" text-anchor="start">40</text>
<text x="1606.5" y="445" font-size="29.1" text-anchor="start">60</text>
<text x="1678.58" y="445" font-size="29.1" text-anchor="start">80</text>
<text x="1746.77" y="445" font-size="29.1" text-anchor="start">100</text>
<text x="1817.67" y="445" font-size="29.1" text-anchor="start">120</text>
<text x="1889.27" y="445" font-size="29.1" text-anchor="start">140</text>
<text x="1385.9" y="33.1" font-size="29.2" text-anchor="start">1</text>
<text x="1361.55" y="201.95" font-size="29.2" text-anchor="start">0.1</text>
<text x="1345.31" y="370.4" font-size="29.2" text-anchor="start">0.01</text>
<text x="1495.01" y="489.3" font-size="29.2" text-anchor="start">Clone size (cell number)</text>
<text transform="translate(1330.6 206) rotate(-90)" font-size="28.9" text-anchor="middle">Cumulative frequency</text>
<text x="1306.59" y="25" font-size="34.2" text-anchor="start" font-weight="bold" style="stroke:none">c</text>
<text x="1786.63" y="57.8" font-size="29.59" text-anchor="start">P5 Lgr5</text>
<text x="1778.44" y="97.8" font-size="29.54" text-anchor="start">P5 Krt19</text>
<g fill="#de2b21">
<circle cx="1902" cy="53.3" r="6.1"/>
</g>
<g fill="#1b71b8">
<circle cx="1902" cy="89.6" r="6.1"/>
</g>
<line x1="155.3" y1="903.4" x2="155.3" y2="897.9" stroke="#141414" stroke-width="1.6" stroke-linecap="butt"/>
<line x1="155.3" y1="513.4" x2="155.3" y2="518.9" stroke="#141414" stroke-width="1.6" stroke-linecap="butt"/>
<line x1="213.1" y1="903.4" x2="213.1" y2="897.9" stroke="#141414" stroke-width="1.6" stroke-linecap="butt"/>
<line x1="213.1" y1="513.4" x2="213.1" y2="518.9" stroke="#141414" stroke-width="1.6" stroke-linecap="butt"/>
<line x1="270.9" y1="903.4" x2="270.9" y2="897.9" stroke="#141414" stroke-width="1.6" stroke-linecap="butt"/>
<line x1="270.9" y1="513.4" x2="270.9" y2="518.9" stroke="#141414" stroke-width="1.6" stroke-linecap="butt"/>
<line x1="328.7" y1="903.4" x2="328.7" y2="897.9" stroke="#141414" stroke-width="1.6" stroke-linecap="butt"/>
<line x1="328.7" y1="513.4" x2="328.7" y2="518.9" stroke="#141414" stroke-width="1.6" stroke-linecap="butt"/>
<line x1="386.5" y1="903.4" x2="386.5" y2="897.9" stroke="#141414" stroke-width="1.6" stroke-linecap="butt"/>
<line x1="386.5" y1="513.4" x2="386.5" y2="518.9" stroke="#141414" stroke-width="1.6" stroke-linecap="butt"/>
<line x1="444.3" y1="903.4" x2="444.3" y2="897.9" stroke="#141414" stroke-width="1.6" stroke-linecap="butt"/>
<line x1="444.3" y1="513.4" x2="444.3" y2="518.9" stroke="#141414" stroke-width="1.6" stroke-linecap="butt"/>
<line x1="502.1" y1="903.4" x2="502.1" y2="897.9" stroke="#141414" stroke-width="1.6" stroke-linecap="butt"/>
<line x1="502.1" y1="513.4" x2="502.1" y2="518.9" stroke="#141414" stroke-width="1.6" stroke-linecap="butt"/>
<line x1="559.9" y1="903.4" x2="559.9" y2="897.9" stroke="#141414" stroke-width="1.6" stroke-linecap="butt"/>
<line x1="559.9" y1="513.4" x2="559.9" y2="518.9" stroke="#141414" stroke-width="1.6" stroke-linecap="butt"/>
<line x1="97.5" y1="708.4" x2="103" y2="708.4" stroke="#141414" stroke-width="1.6" stroke-linecap="butt"/>
<line x1="617.5" y1="708.4" x2="612" y2="708.4" stroke="#141414" stroke-width="1.6" stroke-linecap="butt"/>
<line x1="97.5" y1="649.7" x2="100.3" y2="649.7" stroke="#141414" stroke-width="1.6" stroke-linecap="butt"/>
<line x1="617.5" y1="649.7" x2="614.7" y2="649.7" stroke="#141414" stroke-width="1.6" stroke-linecap="butt"/>
<line x1="97.5" y1="615.36" x2="100.3" y2="615.36" stroke="#141414" stroke-width="1.6" stroke-linecap="butt"/>
<line x1="617.5" y1="615.36" x2="614.7" y2="615.36" stroke="#141414" stroke-width="1.6" stroke-linecap="butt"/>
<line x1="97.5" y1="591" x2="100.3" y2="591" stroke="#141414" stroke-width="1.6" stroke-linecap="butt"/>
<line x1="617.5" y1="591" x2="614.7" y2="591" stroke="#141414" stroke-width="1.6" stroke-linecap="butt"/>
<line x1="97.5" y1="572.1" x2="100.3" y2="572.1" stroke="#141414" stroke-width="1.6" stroke-linecap="butt"/>
<line x1="617.5" y1="572.1" x2="614.7" y2="572.1" stroke="#141414" stroke-width="1.6" stroke-linecap="butt"/>
<line x1="97.5" y1="556.66" x2="100.3" y2="556.66" stroke="#141414" stroke-width="1.6" stroke-linecap="butt"/>
<line x1="617.5" y1="556.66" x2="614.7" y2="556.66" stroke="#141414" stroke-width="1.6" stroke-linecap="butt"/>
<line x1="97.5" y1="543.61" x2="100.3" y2="543.61" stroke="#141414" stroke-width="1.6" stroke-linecap="butt"/>
<line x1="617.5" y1="543.61" x2="614.7" y2="543.61" stroke="#141414" stroke-width="1.6" stroke-linecap="butt"/>
<line x1="97.5" y1="532.3" x2="100.3" y2="532.3" stroke="#141414" stroke-width="1.6" stroke-linecap="butt"/>
<line x1="617.5" y1="532.3" x2="614.7" y2="532.3" stroke="#141414" stroke-width="1.6" stroke-linecap="butt"/>
<line x1="97.5" y1="522.32" x2="100.3" y2="522.32" stroke="#141414" stroke-width="1.6" stroke-linecap="butt"/>
<line x1="617.5" y1="522.32" x2="614.7" y2="522.32" stroke="#141414" stroke-width="1.6" stroke-linecap="butt"/>
<line x1="97.5" y1="844.7" x2="100.3" y2="844.7" stroke="#141414" stroke-width="1.6" stroke-linecap="butt"/>
<line x1="617.5" y1="844.7" x2="614.7" y2="844.7" stroke="#141414" stroke-width="1.6" stroke-linecap="butt"/>
<line x1="97.5" y1="810.36" x2="100.3" y2="810.36" stroke="#141414" stroke-width="1.6" stroke-linecap="butt"/>
<line x1="617.5" y1="810.36" x2="614.7" y2="810.36" stroke="#141414" stroke-width="1.6" stroke-linecap="butt"/>
<line x1="97.5" y1="786" x2="100.3" y2="786" stroke="#141414" stroke-width="1.6" stroke-linecap="butt"/>
<line x1="617.5" y1="786" x2="614.7" y2="786" stroke="#141414" stroke-width="1.6" stroke-linecap="butt"/>
<line x1="97.5" y1="767.1" x2="100.3" y2="767.1" stroke="#141414" stroke-width="1.6" stroke-linecap="butt"/>
<line x1="617.5" y1="767.1" x2="614.7" y2="767.1" stroke="#141414" stroke-width="1.6" stroke-linecap="butt"/>
<line x1="97.5" y1="751.66" x2="100.3" y2="751.66" stroke="#141414" stroke-width="1.6" stroke-linecap="butt"/>
<line x1="617.5" y1="751.66" x2="614.7" y2="751.66" stroke="#141414" stroke-width="1.6" stroke-linecap="butt"/>
<line x1="97.5" y1="738.61" x2="100.3" y2="738.61" stroke="#141414" stroke-width="1.6" stroke-linecap="butt"/>
<line x1="617.5" y1="738.61" x2="614.7" y2="738.61" stroke="#141414" stroke-width="1.6" stroke-linecap="butt"/>
<line x1="97.5" y1="727.3" x2="100.3" y2="727.3" stroke="#141414" stroke-width="1.6" stroke-linecap="butt"/>
<line x1="617.5" y1="727.3" x2="614.7" y2="727.3" stroke="#141414" stroke-width="1.6" stroke-linecap="butt"/>
<line x1="97.5" y1="717.32" x2="100.3" y2="717.32" stroke="#141414" stroke-width="1.6" stroke-linecap="butt"/>
<line x1="617.5" y1="717.32" x2="614.7" y2="717.32" stroke="#141414" stroke-width="1.6" stroke-linecap="butt"/>
<g stroke="#62a9d6" stroke-width="5.6" stroke-linecap="round">
<line x1="97.3" y1="519.24" x2="99.63" y2="519.24"/>
<line x1="100.77" y1="532.3" x2="104.26" y2="532.3"/>
<line x1="105.41" y1="539.67" x2="113.52" y2="539.67"/>
<line x1="114.67" y1="547.74" x2="139" y2="547.74"/>
<line x1="140.15" y1="556.66" x2="150.58" y2="556.66"/>
<line x1="151.73" y1="566.64" x2="159.84" y2="566.64"/>
<line x1="160.99" y1="577.94" x2="163.32" y2="577.94"/>
<line x1="164.46" y1="591" x2="195.74" y2="591"/>
<line x1="196.89" y1="606.44" x2="216.58" y2="606.44"/>
<line x1="217.73" y1="625.34" x2="239.74" y2="625.34"/>
<line x1="240.89" y1="649.7" x2="293.01" y2="649.7"/>
<line x1="294.16" y1="684.04" x2="457.45" y2="684.04"/>
<line x1="458.6" y1="742.74" x2="575.56" y2="742.74"/>
</g>
<path d="M97.6 513.4 L99 517.2 L102.2 527 L105.1 536.7 L107.1 543.2 L109.1 549.8 L120.1 560.7 L130.7 566.8 L142.9 572.5 L155.1 577 L170 581.8 L182.7 585.6 L194.9 589 L215 593.5 L240 600 L265 609.5 L295 619.5 L325 632 L357.5 645 L400 665 L432.5 679.5 L455 690.25 L477.5 701.5 L510 713.25 L537.5 725.75 L555 737.5 L565 745.75 L571.25 754 L582.5 760 L600 767.5 L617.3 776" fill="none" stroke="#62a9d6" stroke-width="1.95" stroke-linejoin="round"/>
<g fill="#7d3f98">
<circle cx="97.3" cy="530.06" r="2.5"/>
<circle cx="98.46" cy="550.82" r="2.5"/>
<circle cx="99.62" cy="566.26" r="2.5"/>
<circle cx="100.77" cy="592.52" r="2.5"/>
<circle cx="101.93" cy="619.49" r="2.5"/>
<circle cx="103.09" cy="643.86" r="2.5"/>
<circle cx="104.25" cy="659.3" r="2.5"/>
<circle cx="105.41" cy="678.19" r="2.5"/>
<circle cx="106.56" cy="736.89" r="2.5"/>
<circle cx="107.72" cy="795.6" r="2.5"/>
</g>
<path d="M97.6 513.4 L108.9 730.5 L120.4 812 L132 869.5 L139.6 903.4" fill="none" stroke="#7d3f98" stroke-width="1.95" stroke-linejoin="round"/>
<g stroke="#1a9a6e" stroke-width="5.4" stroke-linecap="round">
<line x1="98.48" y1="527.55" x2="98.49" y2="527.55"/>
<line x1="99.85" y1="542.37" x2="99.86" y2="542.37"/>
<line x1="100.97" y1="555.58" x2="100.98" y2="555.58"/>
<line x1="101.91" y1="565.82" x2="101.92" y2="565.82"/>
<line x1="103.04" y1="583.72" x2="103.05" y2="583.72"/>
<line x1="104.21" y1="594.32" x2="104.22" y2="594.32"/>
<line x1="105.31" y1="613.22" x2="105.32" y2="613.22"/>
<line x1="106.56" y1="620.59" x2="107.73" y2="620.59"/>
<line x1="108.88" y1="628.66" x2="110.05" y2="628.66"/>
<line x1="111.2" y1="637.58" x2="112.36" y2="637.58"/>
<line x1="113.51" y1="647.56" x2="113.52" y2="647.56"/>
<line x1="114.67" y1="658.86" x2="117" y2="658.86"/>
<line x1="118.14" y1="671.92" x2="118.15" y2="671.92"/>
<line x1="119.3" y1="687.36" x2="119.31" y2="687.36"/>
<line x1="120.46" y1="706.26" x2="123.94" y2="706.26"/>
<line x1="125.09" y1="764.96" x2="130.89" y2="764.96"/>
<line x1="132.04" y1="823.66" x2="148.26" y2="823.66"/>
</g>
<path d="M97.6 513.4 L103.8 580 L108.3 628.8 L113.2 660 L121.3 687.5 L129.9 712 L138.8 735 L145.4 750.3 L156 770.7 L166.6 790 L180.5 809.5 L192.7 827.9 L204.9 843.7 L217.2 858.4 L229.4 871.8 L237.9 881.6 L247.7 891.3 L255.6 903.4" fill="none" stroke="#1a9a6e" stroke-width="1.95" stroke-linejoin="round"/>
<rect x="97.5" y="513.4" width="520" height="390" fill="none" stroke="#141414" stroke-width="2.2"/>
<text x="84.22" y="939.5" font-size="29.1" text-anchor="start">0</text>
<text x="188.07" y="939.5" font-size="29.1" text-anchor="start">100</text>
<text x="303.13" y="939.5" font-size="29.1" text-anchor="start">200</text>
<text x="419.02" y="939.5" font-size="29.1" text-anchor="start">300</text>
<text x="534.49" y="939.5" font-size="29.1" text-anchor="start">400</text>
<text x="72.1" y="521" font-size="29.2" text-anchor="start">1</text>
<text x="47.75" y="716" font-size="29.2" text-anchor="start">0.1</text>
<text x="31.51" y="910.4" font-size="29.2" text-anchor="start">0.01</text>
<text x="177.01" y="973.5" font-size="29.2" text-anchor="start">Clone size (cell number)</text>
<text transform="translate(23.5 703.7) rotate(-90)" font-size="28.6" text-anchor="middle">Cumulative frequency</text>
<text x="2.5" y="513.8" font-size="34.2" text-anchor="start" font-weight="bold" style="stroke:none">d</text>
<text x="411.37" y="550.2" font-size="29.14" text-anchor="start">Lgr5 P0</text>
<line x1="515.5" y1="542.8" x2="604.5" y2="542.8" stroke="#7d3f98" stroke-width="2" stroke-linecap="butt"/>
<text x="411.37" y="584" font-size="29.14" text-anchor="start">Lgr5 P5</text>
<line x1="515.5" y1="576.5" x2="604.5" y2="576.5" stroke="#1a9a6e" stroke-width="2" stroke-linecap="butt"/>
<text x="394" y="617.4" font-size="29.96" text-anchor="start">Lgr5 P11</text>
<line x1="515.5" y1="610" x2="604.5" y2="610" stroke="#62a9d6" stroke-width="2" stroke-linecap="butt"/>
<line x1="818.64" y1="902.2" x2="818.64" y2="896.7" stroke="#141414" stroke-width="1.6" stroke-linecap="butt"/>
<line x1="818.64" y1="512.3" x2="818.64" y2="517.8" stroke="#141414" stroke-width="1.6" stroke-linecap="butt"/>
<line x1="876.53" y1="902.2" x2="876.53" y2="896.7" stroke="#141414" stroke-width="1.6" stroke-linecap="butt"/>
<line x1="876.53" y1="512.3" x2="876.53" y2="517.8" stroke="#141414" stroke-width="1.6" stroke-linecap="butt"/>
<line x1="934.42" y1="902.2" x2="934.42" y2="896.7" stroke="#141414" stroke-width="1.6" stroke-linecap="butt"/>
<line x1="934.42" y1="512.3" x2="934.42" y2="517.8" stroke="#141414" stroke-width="1.6" stroke-linecap="butt"/>
<line x1="992.31" y1="902.2" x2="992.31" y2="896.7" stroke="#141414" stroke-width="1.6" stroke-linecap="butt"/>
<line x1="992.31" y1="512.3" x2="992.31" y2="517.8" stroke="#141414" stroke-width="1.6" stroke-linecap="butt"/>
<line x1="1050.2" y1="902.2" x2="1050.2" y2="896.7" stroke="#141414" stroke-width="1.6" stroke-linecap="butt"/>
<line x1="1050.2" y1="512.3" x2="1050.2" y2="517.8" stroke="#141414" stroke-width="1.6" stroke-linecap="butt"/>
<line x1="1108.09" y1="902.2" x2="1108.09" y2="896.7" stroke="#141414" stroke-width="1.6" stroke-linecap="butt"/>
<line x1="1108.09" y1="512.3" x2="1108.09" y2="517.8" stroke="#141414" stroke-width="1.6" stroke-linecap="butt"/>
<line x1="1165.98" y1="902.2" x2="1165.98" y2="896.7" stroke="#141414" stroke-width="1.6" stroke-linecap="butt"/>
<line x1="1165.98" y1="512.3" x2="1165.98" y2="517.8" stroke="#141414" stroke-width="1.6" stroke-linecap="butt"/>
<line x1="1223.87" y1="902.2" x2="1223.87" y2="896.7" stroke="#141414" stroke-width="1.6" stroke-linecap="butt"/>
<line x1="1223.87" y1="512.3" x2="1223.87" y2="517.8" stroke="#141414" stroke-width="1.6" stroke-linecap="butt"/>
<line x1="760.8" y1="707.1" x2="766.3" y2="707.1" stroke="#141414" stroke-width="1.6" stroke-linecap="butt"/>
<line x1="1283" y1="707.1" x2="1277.5" y2="707.1" stroke="#141414" stroke-width="1.6" stroke-linecap="butt"/>
<line x1="760.8" y1="648.46" x2="763.6" y2="648.46" stroke="#141414" stroke-width="1.6" stroke-linecap="butt"/>
<line x1="1283" y1="648.46" x2="1280.2" y2="648.46" stroke="#141414" stroke-width="1.6" stroke-linecap="butt"/>
<line x1="760.8" y1="614.16" x2="763.6" y2="614.16" stroke="#141414" stroke-width="1.6" stroke-linecap="butt"/>
<line x1="1283" y1="614.16" x2="1280.2" y2="614.16" stroke="#141414" stroke-width="1.6" stroke-linecap="butt"/>
<line x1="760.8" y1="589.82" x2="763.6" y2="589.82" stroke="#141414" stroke-width="1.6" stroke-linecap="butt"/>
<line x1="1283" y1="589.82" x2="1280.2" y2="589.82" stroke="#141414" stroke-width="1.6" stroke-linecap="butt"/>
<line x1="760.8" y1="570.94" x2="763.6" y2="570.94" stroke="#141414" stroke-width="1.6" stroke-linecap="butt"/>
<line x1="1283" y1="570.94" x2="1280.2" y2="570.94" stroke="#141414" stroke-width="1.6" stroke-linecap="butt"/>
<line x1="760.8" y1="555.52" x2="763.6" y2="555.52" stroke="#141414" stroke-width="1.6" stroke-linecap="butt"/>
<line x1="1283" y1="555.52" x2="1280.2" y2="555.52" stroke="#141414" stroke-width="1.6" stroke-linecap="butt"/>
<line x1="760.8" y1="542.47" x2="763.6" y2="542.47" stroke="#141414" stroke-width="1.6" stroke-linecap="butt"/>
<line x1="1283" y1="542.47" x2="1280.2" y2="542.47" stroke="#141414" stroke-width="1.6" stroke-linecap="butt"/>
<line x1="760.8" y1="531.18" x2="763.6" y2="531.18" stroke="#141414" stroke-width="1.6" stroke-linecap="butt"/>
<line x1="1283" y1="531.18" x2="1280.2" y2="531.18" stroke="#141414" stroke-width="1.6" stroke-linecap="butt"/>
<line x1="760.8" y1="521.21" x2="763.6" y2="521.21" stroke="#141414" stroke-width="1.6" stroke-linecap="butt"/>
<line x1="1283" y1="521.21" x2="1280.2" y2="521.21" stroke="#141414" stroke-width="1.6" stroke-linecap="butt"/>
<line x1="760.8" y1="843.26" x2="763.6" y2="843.26" stroke="#141414" stroke-width="1.6" stroke-linecap="butt"/>
<line x1="1283" y1="843.26" x2="1280.2" y2="843.26" stroke="#141414" stroke-width="1.6" stroke-linecap="butt"/>
<line x1="760.8" y1="808.96" x2="763.6" y2="808.96" stroke="#141414" stroke-width="1.6" stroke-linecap="butt"/>
<line x1="1283" y1="808.96" x2="1280.2" y2="808.96" stroke="#141414" stroke-width="1.6" stroke-linecap="butt"/>
<line x1="760.8" y1="784.62" x2="763.6" y2="784.62" stroke="#141414" stroke-width="1.6" stroke-linecap="butt"/>
<line x1="1283" y1="784.62" x2="1280.2" y2="784.62" stroke="#141414" stroke-width="1.6" stroke-linecap="butt"/>
<line x1="760.8" y1="765.74" x2="763.6" y2="765.74" stroke="#141414" stroke-width="1.6" stroke-linecap="butt"/>
<line x1="1283" y1="765.74" x2="1280.2" y2="765.74" stroke="#141414" stroke-width="1.6" stroke-linecap="butt"/>
<line x1="760.8" y1="750.32" x2="763.6" y2="750.32" stroke="#141414" stroke-width="1.6" stroke-linecap="butt"/>
<line x1="1283" y1="750.32" x2="1280.2" y2="750.32" stroke="#141414" stroke-width="1.6" stroke-linecap="butt"/>
<line x1="760.8" y1="737.27" x2="763.6" y2="737.27" stroke="#141414" stroke-width="1.6" stroke-linecap="butt"/>
<line x1="1283" y1="737.27" x2="1280.2" y2="737.27" stroke="#141414" stroke-width="1.6" stroke-linecap="butt"/>
<line x1="760.8" y1="725.98" x2="763.6" y2="725.98" stroke="#141414" stroke-width="1.6" stroke-linecap="butt"/>
<line x1="1283" y1="725.98" x2="1280.2" y2="725.98" stroke="#141414" stroke-width="1.6" stroke-linecap="butt"/>
<line x1="760.8" y1="716.01" x2="763.6" y2="716.01" stroke="#141414" stroke-width="1.6" stroke-linecap="butt"/>
<line x1="1283" y1="716.01" x2="1280.2" y2="716.01" stroke="#141414" stroke-width="1.6" stroke-linecap="butt"/>
<g stroke="#62a9d6" stroke-width="5.1" stroke-linecap="round">
<line x1="760.75" y1="512.8" x2="760.76" y2="512.8"/>
<line x1="761.91" y1="513.63" x2="761.92" y2="513.63"/>
<line x1="763.07" y1="514.48" x2="763.08" y2="514.48"/>
<line x1="764.22" y1="515.33" x2="764.23" y2="515.33"/>
<line x1="765.38" y1="516.18" x2="765.39" y2="516.18"/>
<line x1="766.54" y1="517.05" x2="766.55" y2="517.05"/>
<line x1="767.7" y1="518.81" x2="768.86" y2="518.81"/>
<line x1="770.01" y1="519.71" x2="771.18" y2="519.71"/>
<line x1="772.33" y1="520.61" x2="773.5" y2="520.61"/>
<line x1="774.64" y1="521.53" x2="775.81" y2="521.53"/>
<line x1="776.96" y1="522.45" x2="778.13" y2="522.45"/>
<line x1="779.27" y1="523.39" x2="780.44" y2="523.39"/>
<line x1="781.59" y1="524.33" x2="782.76" y2="524.33"/>
<line x1="783.91" y1="525.29" x2="786.23" y2="525.29"/>
<line x1="787.38" y1="526.26" x2="787.39" y2="526.26"/>
<line x1="788.54" y1="527.24" x2="789.71" y2="527.24"/>
<line x1="790.85" y1="528.22" x2="790.86" y2="528.22"/>
<line x1="792.01" y1="529.23" x2="793.18" y2="529.23"/>
<line x1="794.33" y1="530.24" x2="795.49" y2="530.24"/>
<line x1="796.64" y1="531.26" x2="798.97" y2="531.26"/>
<line x1="800.12" y1="532.3" x2="801.28" y2="532.3"/>
<line x1="802.43" y1="533.35" x2="804.76" y2="533.35"/>
<line x1="805.9" y1="534.42" x2="808.23" y2="534.42"/>
<line x1="809.38" y1="535.5" x2="811.7" y2="535.5"/>
<line x1="812.85" y1="536.59" x2="816.33" y2="536.59"/>
<line x1="817.48" y1="537.69" x2="818.65" y2="537.69"/>
<line x1="819.8" y1="538.81" x2="822.12" y2="538.81"/>
<line x1="823.27" y1="539.95" x2="830.23" y2="539.95"/>
<line x1="831.38" y1="541.1" x2="831.39" y2="541.1"/>
<line x1="832.53" y1="542.27" x2="833.7" y2="542.27"/>
<line x1="834.85" y1="543.45" x2="834.86" y2="543.45"/>
<line x1="836.01" y1="544.65" x2="837.17" y2="544.65"/>
<line x1="838.32" y1="545.87" x2="839.49" y2="545.87"/>
<line x1="840.64" y1="547.1" x2="840.65" y2="547.1"/>
<line x1="841.8" y1="548.36" x2="842.96" y2="548.36"/>
<line x1="844.11" y1="549.63" x2="845.28" y2="549.63"/>
<line x1="846.43" y1="550.92" x2="847.6" y2="550.92"/>
<line x1="848.74" y1="552.23" x2="848.75" y2="552.23"/>
<line x1="849.9" y1="553.56" x2="851.07" y2="553.56"/>
<line x1="852.22" y1="554.92" x2="852.23" y2="554.92"/>
<line x1="853.37" y1="556.29" x2="853.38" y2="556.29"/>
<line x1="854.53" y1="557.69" x2="855.7" y2="557.69"/>
<line x1="856.85" y1="559.11" x2="856.86" y2="559.11"/>
<line x1="858.01" y1="560.56" x2="858.02" y2="560.56"/>
<line x1="859.16" y1="562.03" x2="860.33" y2="562.03"/>
<line x1="861.48" y1="563.53" x2="862.65" y2="563.53"/>
<line x1="863.79" y1="565.05" x2="864.96" y2="565.05"/>
<line x1="866.11" y1="566.61" x2="868.44" y2="566.61"/>
<line x1="869.58" y1="568.19" x2="871.91" y2="568.19"/>
<line x1="873.06" y1="569.8" x2="873.07" y2="569.8"/>
<line x1="874.21" y1="571.44" x2="875.38" y2="571.44"/>
<line x1="876.53" y1="573.12" x2="876.54" y2="573.12"/>
<line x1="877.69" y1="574.83" x2="881.17" y2="574.83"/>
<line x1="882.32" y1="576.57" x2="886.96" y2="576.57"/>
<line x1="888.11" y1="578.35" x2="888.12" y2="578.35"/>
<line x1="889.27" y1="580.17" x2="903.17" y2="580.17"/>
<line x1="904.32" y1="582.03" x2="906.64" y2="582.03"/>
<line x1="907.79" y1="583.93" x2="913.59" y2="583.93"/>
<line x1="914.74" y1="585.88" x2="915.91" y2="585.88"/>
<line x1="917.05" y1="587.87" x2="922.85" y2="587.87"/>
<line x1="924" y1="589.91" x2="925.17" y2="589.91"/>
<line x1="926.32" y1="591.99" x2="927.48" y2="591.99"/>
<line x1="928.63" y1="594.14" x2="928.64" y2="594.14"/>
<line x1="929.79" y1="596.33" x2="930.96" y2="596.33"/>
<line x1="932.1" y1="598.59" x2="933.27" y2="598.59"/>
<line x1="934.42" y1="600.91" x2="937.9" y2="600.91"/>
<line x1="939.05" y1="603.29" x2="942.53" y2="603.29"/>
<line x1="943.68" y1="605.74" x2="943.69" y2="605.74"/>
<line x1="944.84" y1="608.27" x2="944.85" y2="608.27"/>
<line x1="946" y1="610.87" x2="948.32" y2="610.87"/>
<line x1="949.47" y1="613.56" x2="951.8" y2="613.56"/>
<line x1="952.94" y1="616.33" x2="956.43" y2="616.33"/>
<line x1="957.58" y1="619.2" x2="968.01" y2="619.2"/>
<line x1="969.15" y1="622.17" x2="969.16" y2="622.17"/>
<line x1="970.31" y1="625.25" x2="970.32" y2="625.25"/>
<line x1="971.47" y1="628.44" x2="981.9" y2="628.44"/>
<line x1="983.05" y1="631.76" x2="987.69" y2="631.76"/>
<line x1="988.84" y1="635.21" x2="990" y2="635.21"/>
<line x1="991.15" y1="638.81" x2="992.32" y2="638.81"/>
<line x1="993.47" y1="642.57" x2="993.48" y2="642.57"/>
<line x1="994.63" y1="646.51" x2="1002.74" y2="646.51"/>
<line x1="1003.89" y1="650.63" x2="1010.84" y2="650.63"/>
<line x1="1011.99" y1="659.55" x2="1012" y2="659.55"/>
<line x1="1013.15" y1="664.38" x2="1028.21" y2="664.38"/>
<line x1="1029.36" y1="669.51" x2="1051.37" y2="669.51"/>
<line x1="1052.52" y1="674.97" x2="1056" y2="674.97"/>
<line x1="1057.15" y1="680.81" x2="1058.31" y2="680.81"/>
<line x1="1059.46" y1="687.08" x2="1061.79" y2="687.08"/>
<line x1="1062.94" y1="693.85" x2="1079.15" y2="693.85"/>
<line x1="1080.3" y1="701.21" x2="1080.31" y2="701.21"/>
<line x1="1081.46" y1="709.28" x2="1088.42" y2="709.28"/>
<line x1="1089.57" y1="718.19" x2="1089.58" y2="718.19"/>
<line x1="1090.72" y1="728.15" x2="1102.31" y2="728.15"/>
<line x1="1045.57" y1="687.08" x2="1047.89" y2="687.08"/>
</g>
<g stroke="#62a9d6" stroke-width="5.6" stroke-linecap="round">
<line x1="1103.46" y1="739.45" x2="1128.94" y2="739.45"/>
<line x1="1130.09" y1="752.49" x2="1143.99" y2="752.49"/>
<line x1="1145.14" y1="767.92" x2="1190.3" y2="767.92"/>
<line x1="1191.45" y1="786.79" x2="1207.67" y2="786.79"/>
<line x1="1208.82" y1="811.13" x2="1208.83" y2="811.13"/>
<line x1="1209.98" y1="845.43" x2="1235.46" y2="845.43"/>
</g>
<path d="M760.8 512.3 L764.7 527 L772.2 550.2 L784.2 561.2 L796.4 568.5 L811 575.2 L829.4 581.9 L850 586.6 L886.6 596.5 L923.3 607.5 L947.7 617.3 L972.1 626.5 L994.2 636.3 L1021 649.7 L1051.6 663.7 L1082.1 677.8 L1120 694.5 L1175 717 L1222 737.5 L1245 747 L1262.5 755.75 L1282.5 763.7" fill="none" stroke="#62a9d6" stroke-width="1.95" stroke-linejoin="round"/>
<g stroke="#7d3f98" stroke-width="5.5" stroke-linecap="round">
<line x1="760.75" y1="515.54" x2="760.76" y2="515.54"/>
<line x1="761.91" y1="528.59" x2="761.92" y2="528.59"/>
<line x1="763.07" y1="545.32" x2="763.08" y2="545.32"/>
<line x1="764.22" y1="567.92" x2="764.23" y2="567.92"/>
<line x1="765.38" y1="580.96" x2="765.39" y2="580.96"/>
<line x1="766.54" y1="594" x2="766.55" y2="594"/>
<line x1="767.7" y1="612.29" x2="767.71" y2="612.29"/>
<line x1="768.85" y1="628.3" x2="768.86" y2="628.3"/>
<line x1="770.01" y1="639.6" x2="770.02" y2="639.6"/>
<line x1="771.17" y1="657.47" x2="771.18" y2="657.47"/>
<line x1="772.33" y1="662.6" x2="774.65" y2="662.6"/>
<line x1="775.8" y1="686.94" x2="775.81" y2="686.94"/>
<line x1="776.96" y1="694.3" x2="778.13" y2="694.3"/>
<line x1="779.27" y1="702.37" x2="780.44" y2="702.37"/>
<line x1="781.59" y1="711.28" x2="782.76" y2="711.28"/>
<line x1="783.91" y1="732.54" x2="786.23" y2="732.54"/>
<line x1="787.38" y1="761.01" x2="787.39" y2="761.01"/>
<line x1="788.54" y1="779.88" x2="789.71" y2="779.88"/>
<line x1="790.85" y1="804.22" x2="792.02" y2="804.22"/>
<line x1="793.17" y1="838.52" x2="797.81" y2="838.52"/>
<line x1="798.96" y1="897.17" x2="814.02" y2="897.17"/>
</g>
<path d="M760.8 512.3 L765.7 610.9 L768.6 650 L770.3 674.4 L773.4 705 L777.6 735.5 L783.5 765 L792.9 805.8 L805.1 851.5 L815.8 895.8 L817.3 902.2" fill="none" stroke="#7d3f98" stroke-width="1.95" stroke-linejoin="round"/>
<g stroke="#1a9a6e" stroke-width="5.7" stroke-linecap="round">
<line x1="762.06" y1="516.52" x2="762.07" y2="516.52"/>
<line x1="763.3" y1="531.33" x2="763.31" y2="531.33"/>
<line x1="764.52" y1="549.57" x2="764.53" y2="549.57"/>
<line x1="764.2" y1="564.52" x2="764.21" y2="564.52"/>
<line x1="765.36" y1="576.66" x2="765.37" y2="576.66"/>
<line x1="766.49" y1="589.97" x2="766.5" y2="589.97"/>
<line x1="767.66" y1="604.03" x2="767.67" y2="604.03"/>
<line x1="768.85" y1="610.38" x2="768.86" y2="610.38"/>
<line x1="770.01" y1="620.89" x2="770.02" y2="620.89"/>
<line x1="771.17" y1="631.48" x2="771.18" y2="631.48"/>
<line x1="772.33" y1="638.84" x2="772.34" y2="638.84"/>
<line x1="773.49" y1="650.36" x2="773.5" y2="650.36"/>
<line x1="774.64" y1="659.66" x2="774.65" y2="659.66"/>
<line x1="775.8" y1="663.69" x2="775.81" y2="663.69"/>
<line x1="776.96" y1="665.78" x2="776.97" y2="665.78"/>
<line x1="778.12" y1="670.12" x2="778.13" y2="670.12"/>
<line x1="779.27" y1="672.38" x2="779.28" y2="672.38"/>
<line x1="780.43" y1="674.7" x2="781.6" y2="674.7"/>
<line x1="782.75" y1="682.06" x2="783.92" y2="682.06"/>
<line x1="785.06" y1="690.12" x2="785.07" y2="690.12"/>
<line x1="786.22" y1="695.96" x2="786.23" y2="695.96"/>
<line x1="787.38" y1="699.03" x2="788.55" y2="699.03"/>
<line x1="789.7" y1="702.23" x2="789.71" y2="702.23"/>
<line x1="790.85" y1="705.54" x2="792.02" y2="705.54"/>
<line x1="793.17" y1="712.6" x2="796.65" y2="712.6"/>
<line x1="797.8" y1="716.36" x2="797.81" y2="716.36"/>
<line x1="798.96" y1="728.76" x2="800.13" y2="728.76"/>
<line x1="801.27" y1="733.34" x2="801.28" y2="733.34"/>
<line x1="802.43" y1="743.3" x2="802.44" y2="743.3"/>
<line x1="803.59" y1="748.76" x2="805.91" y2="748.76"/>
<line x1="807.06" y1="754.6" x2="807.07" y2="754.6"/>
<line x1="808.22" y1="767.64" x2="811.7" y2="767.64"/>
<line x1="812.85" y1="775" x2="817.49" y2="775"/>
<line x1="818.64" y1="791.98" x2="829.07" y2="791.98"/>
<line x1="830.22" y1="801.94" x2="841.81" y2="801.94"/>
<line x1="842.95" y1="813.24" x2="845.28" y2="813.24"/>
<line x1="846.43" y1="826.28" x2="854.54" y2="826.28"/>
<line x1="855.69" y1="841.7" x2="883.49" y2="841.7"/>
<line x1="884.63" y1="860.58" x2="907.8" y2="860.58"/>
<line x1="908.95" y1="884.92" x2="917.06" y2="884.92"/>
</g>
<path d="M760.8 512.3 L765.2 560 L768.8 590.5 L773.4 631.2 L778.25 650 L786.2 674.4 L797.2 698.8 L810.6 723.3 L825.3 747.7 L834 760 L849.3 779.8 L869.1 804.2 L892 831.7 L907.3 848.5 L922.5 863.7 L940 881.5 L952.5 892.8 L962.8 902.2" fill="none" stroke="#1a9a6e" stroke-width="1.95" stroke-linejoin="round"/>
<rect x="760.8" y="512.3" width="522.2" height="389.9" fill="none" stroke="#141414" stroke-width="2.2"/>
<line x1="757.3" y1="895" x2="757.3" y2="902.2" stroke="#141414" stroke-width="1.5" stroke-linecap="butt"/>
<line x1="756.3" y1="512.3" x2="756.3" y2="518.2" stroke="#141414" stroke-width="1.5" stroke-linecap="butt"/>
<text x="743.92" y="939.5" font-size="29.1" text-anchor="start">0</text>
<text x="848.57" y="939.5" font-size="29.1" text-anchor="start">100</text>
<text x="964.63" y="939.5" font-size="29.1" text-anchor="start">200</text>
<text x="1080.77" y="939.5" font-size="29.1" text-anchor="start">300</text>
<text x="1197.19" y="939.5" font-size="29.1" text-anchor="start">400</text>
<text x="732.4" y="519.3" font-size="29.2" text-anchor="start">1</text>
<text x="707.75" y="714.6" font-size="29.2" text-anchor="start">0.1</text>
<text x="691.51" y="909.7" font-size="29.2" text-anchor="start">0.01</text>
<text x="825.01" y="976.6" font-size="29.2" text-anchor="start">Clone size (cell number)</text>
<text transform="translate(675.9 703.7) rotate(-90)" font-size="28.6" text-anchor="middle">Cumulative frequency</text>
<text x="652.42" y="514.1" font-size="34.2" text-anchor="start" font-weight="bold" style="stroke:none">e</text>
<text x="1062.05" y="549.6" font-size="29.39" text-anchor="start">Krt19 P0</text>
<line x1="1175" y1="542" x2="1263.5" y2="542" stroke="#7d3f98" stroke-width="2" stroke-linecap="butt"/>
<text x="1062.05" y="583.4" font-size="29.39" text-anchor="start">Krt19 P5</text>
<line x1="1175" y1="575.5" x2="1263.5" y2="575.5" stroke="#1a9a6e" stroke-width="2" stroke-linecap="butt"/>
<text x="1044.7" y="616.8" font-size="29.95" text-anchor="start">Krt19 P11</text>
<line x1="1174" y1="608.8" x2="1263.5" y2="608.8" stroke="#62a9d6" stroke-width="2" stroke-linecap="butt"/>
</svg>
</body></html>
